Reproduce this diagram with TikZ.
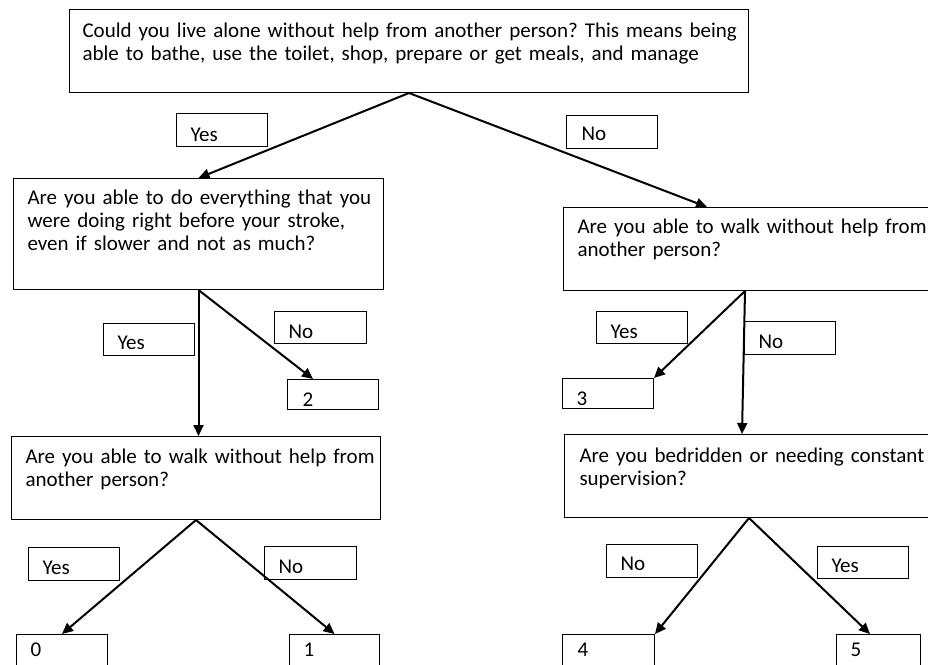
\documentclass[tikz,border=0pt]{standalone}
\usepackage{fontspec}
\setmainfont[WordSpace={0.6,1,1}]{Carlito}
\usetikzlibrary{arrows.meta,calc}
\newcommand\qfont{\fontsize{21pt}{23pt}\selectfont}
\frenchspacing
\tikzset{
  bx/.style={draw=black, line width=1pt, inner ysep=0pt, inner xsep=14pt,
    anchor=north west, align=left, font=\qfont},
  lbl/.style={bx, text width=#1},
  arr/.style={line width=2pt, -{Triangle[length=11pt,width=10pt]}},
}
\begin{document}
\begin{tikzpicture}[x=1pt,y=-1pt]
\useasboundingbox (0,0) rectangle (928,664);
\clip (0,0) rectangle (928,664);
\fill[white] (0,0) rectangle (928,664);

% question boxes (width = text width + 2*inner xsep)
\node[bx, inner xsep=13pt, text width=653pt, text height=28pt, text depth=55pt] (top) at (69,9)
  {\mbox{Could you live alone without help from another person? This means being}\\ \mbox{able to bathe, use the toilet, shop, prepare or get meals, and manage}};
\node[bx, text width=342pt, text height=26pt, text depth=85pt] (A) at (13,178)
  {\mbox{Are you able to do everything that you}\\ \mbox{were doing right before your stroke,}\\ \mbox{even if slower and not as much?}};
\node[bx, text width=352pt, text height=26pt, text depth=57pt] (B) at (563,207)
  {\mbox{Are you able to walk without help from}\\ \mbox{another person?}};
\node[bx, text width=341pt, text height=27pt, text depth=56pt] (C) at (11,436)
  {\mbox{Are you able to walk without help from}\\ \mbox{another person?}};
\node[bx, inner xsep=15pt, text width=346pt, text height=28pt, text depth=55pt] (D) at (564,434)
  {\mbox{Are you bedridden or needing constant}\\ \mbox{supervision?}};

% label boxes (width = text width + 28)
\node[lbl=63pt, text height=28pt, text depth=5pt] (yes1) at (176,113) {Yes};
\node[lbl=63pt, text height=25pt, text depth=8pt] (no1) at (566,115) {\hspace*{1pt}No};
\node[lbl=63pt, text height=26pt, text depth=6pt] (yesA) at (103,323) {Yes};
\node[lbl=64pt, text height=27pt, text depth=5pt] (noA) at (274,311) {No};
\node[lbl=63pt, text height=27pt, text depth=3pt] (two) at (287,379) {\hspace*{1pt}2};
\node[lbl=63pt, text height=27pt, text depth=5pt] (yesB) at (596,311) {Yes};
\node[lbl=63pt, text height=27pt, text depth=6pt] (noB) at (744,321) {No};
\node[lbl=63pt, text height=27pt, text depth=3pt] (three) at (562,378) {3};
\node[lbl=63pt, text height=27pt, text depth=6pt] (yesC) at (28,547) {Yes};
\node[lbl=64pt, text height=27pt, text depth=6pt] (noC) at (264,546) {No};
\node[lbl=63pt, text height=22pt, text depth=13pt] (zero) at (16,634) {0};
\node[lbl=62pt, text height=22pt, text depth=13pt] (one) at (289,634) {1};
\node[lbl=63pt, text height=26pt, text depth=7pt] (noD) at (606,544) {No};
\node[lbl=63pt, text height=26pt, text depth=6pt] (yesD) at (817,546) {Yes};
\node[lbl=64pt, text height=22pt, text depth=13pt] (four) at (562,634) {\hspace*{1pt}4};
\node[lbl=56pt, text height=22pt, text depth=13pt] (five) at (836,634) {5};

% connectors
\draw[arr] (top.south) -- (A.north);
\draw[arr] (top.south) -- ($(B.north west)+(144,0)$);
\draw[arr] (A.south) -- (A.south |- C.north);
\draw[arr] (A.south) -- ($(two.north west)+(26,0)$);
\coordinate (Bo) at ($(B.south west)+(182,0)$);
\draw[arr] (Bo) -- (three.north east);
\draw[arr] (Bo) -- ($(D.north west)+(178,0)$);
\draw[arr] (C.south) -- (zero.north);
\draw[arr] (C.south) -- (one.north);
\coordinate (Do) at ($(D.south west)+(185,0)$);
\draw[arr] (Do) -- (four.north east);
\draw[arr] (Do) -- ($(five.north west)+(34,0)$);
\end{tikzpicture}
\end{document}
